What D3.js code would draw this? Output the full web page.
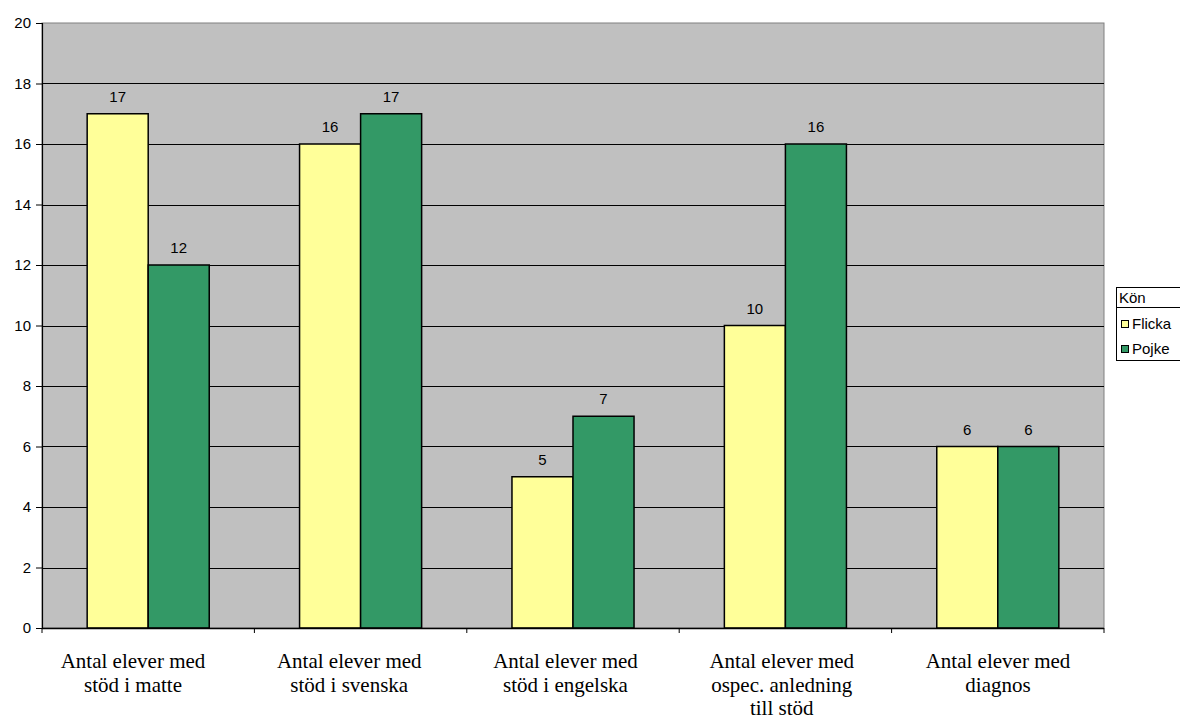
<!DOCTYPE html>
<html>
<head>
<meta charset="utf-8">
<script src="https://cdn.jsdelivr.net/npm/d3@7/dist/d3.min.js"></script>
<style>
  html, body { margin: 0; padding: 0; background: #fff; }
  svg { display: block; }
</style>
</head>
<body>
<svg id="chart" width="1180" height="720"></svg>
<script>
// Antal elever med stöd, per kön
const categories = [
  ["Antal elever med", "stöd i matte"],
  ["Antal elever med", "stöd i svenska"],
  ["Antal elever med", "stöd i engelska"],
  ["Antal elever med", "ospec. anledning", "till stöd"],
  ["Antal elever med", "diagnos"]
];
const flicka = [17, 16, 5, 10, 6];
const pojke = [12, 17, 7, 16, 6];
const seriesNames = ["Flicka", "Pojke"];
const yTicks = [0, 2, 4, 6, 8, 10, 12, 14, 16, 18, 20];
const legendTitle = "Kön";

const colors = ["#FFFF99", "#339966"];
const sans = "Liberation Sans, Arial, sans-serif";

const svg = d3.select("#chart");
const plot = { left: 42, top: 23, right: 1104, bottom: 628 };

const x0 = d3.scaleBand()
  .domain(d3.range(categories.length))
  .range([plot.left, plot.right])
  .paddingInner(0)
  .paddingOuter(0);

const x1 = d3.scaleBand()
  .domain([0, 1])
  .range([0, x0.bandwidth()])
  .paddingInner(0)
  .paddingOuter(0.74);

// label anchors under the categories
const xLabel = d3.scalePoint()
  .domain(d3.range(categories.length))
  .range([133, 998]);

const y = d3.scaleLinear().domain([0, 20]).range([plot.bottom, plot.top]);

// plot background
svg.append("rect")
  .attr("x", plot.left).attr("y", plot.top)
  .attr("width", plot.right - plot.left).attr("height", plot.bottom - plot.top)
  .attr("fill", "#C0C0C0")
  .attr("stroke", "#808080").attr("stroke-width", 1);

// horizontal gridlines
svg.append("g")
  .selectAll("line")
  .data(yTicks.filter(t => t > 0 && t < 20))
  .join("line")
  .attr("x1", plot.left).attr("x2", plot.right)
  .attr("y1", d => Math.round(y(d)) + 0.5).attr("y2", d => Math.round(y(d)) + 0.5)
  .attr("stroke", "#000").attr("stroke-width", 1);

// bars and value labels
const series = [flicka, pojke];
series.forEach((vals, si) => {
  svg.append("g")
    .selectAll("rect")
    .data(vals)
    .join("rect")
    .attr("x", (d, i) => x0(i) + x1(si))
    .attr("y", d => y(d))
    .attr("width", x1.bandwidth())
    .attr("height", d => y(0) - y(d))
    .attr("fill", colors[si])
    .attr("stroke", "#000").attr("stroke-width", 1.5);

  svg.append("g")
    .selectAll("text")
    .data(vals)
    .join("text")
    .attr("x", (d, i) => x0(i) + x1(si) + x1.bandwidth() / 2)
    .attr("y", d => y(d) - 12)
    .attr("text-anchor", "middle")
    .attr("font-family", sans)
    .attr("font-size", 15)
    .attr("fill", "#000")
    .text(d => d);
});

// y axis
const yAxis = svg.append("g")
  .attr("transform", `translate(${plot.left},0)`)
  .call(d3.axisLeft(y).tickValues(yTicks).tickSize(6).tickPadding(5).tickFormat(d3.format("d")));
yAxis.select(".domain").attr("stroke", "#000").attr("stroke-width", 1.2);
yAxis.selectAll(".tick line").attr("stroke", "#000");
yAxis.selectAll("text")
  .attr("font-family", sans)
  .attr("font-size", 15).attr("fill", "#000");

// x axis with ticks at category boundaries
const xAxisG = svg.append("g");
xAxisG.append("line")
  .attr("x1", plot.left).attr("x2", plot.right)
  .attr("y1", plot.bottom + 0.5).attr("y2", plot.bottom + 0.5)
  .attr("stroke", "#000").attr("stroke-width", 1.5);
xAxisG.selectAll("line.tick")
  .data(d3.range(categories.length + 1))
  .join("line")
  .attr("class", "tick")
  .attr("x1", i => i < categories.length ? x0(i) : plot.right)
  .attr("x2", i => i < categories.length ? x0(i) : plot.right)
  .attr("y1", plot.bottom).attr("y2", plot.bottom + 5)
  .attr("stroke", "#000");

// category labels
const catLabels = svg.append("g")
  .selectAll("text")
  .data(categories)
  .join("text")
  .attr("text-anchor", "middle")
  .attr("font-family", "Liberation Serif, Times New Roman, serif")
  .attr("font-size", 21)
  .attr("fill", "#000");
catLabels.each(function(lines, i) {
  const t = d3.select(this);
  lines.forEach((ln, li) => {
    t.append("tspan")
      .attr("x", xLabel(i))
      .attr("y", 668 + li * 23.5)
      .text(ln);
  });
});

// legend
const lg = svg.append("g").attr("transform", "translate(1116,287)");
lg.append("rect")
  .attr("x", 0.5).attr("y", 0.5).attr("width", 80).attr("height", 73)
  .attr("fill", "#fff").attr("stroke", "#000");
lg.append("line")
  .attr("x1", 0).attr("x2", 80).attr("y1", 20.5).attr("y2", 20.5)
  .attr("stroke", "#000");
lg.append("text")
  .attr("x", 3).attr("y", 16)
  .attr("font-family", sans)
  .attr("font-size", 15).attr("fill", "#000")
  .text(legendTitle);
seriesNames.forEach((name, i) => {
  const yy = 33 + i * 25;
  lg.append("rect")
    .attr("x", 5.5).attr("y", yy + 0.5).attr("width", 7).attr("height", 7)
    .attr("fill", colors[i]).attr("stroke", "#000");
  lg.append("text")
    .attr("x", 16).attr("y", yy + 9)
    .attr("font-family", sans)
    .attr("font-size", 15).attr("fill", "#000")
    .text(name);
});
</script>
</body>
</html>
